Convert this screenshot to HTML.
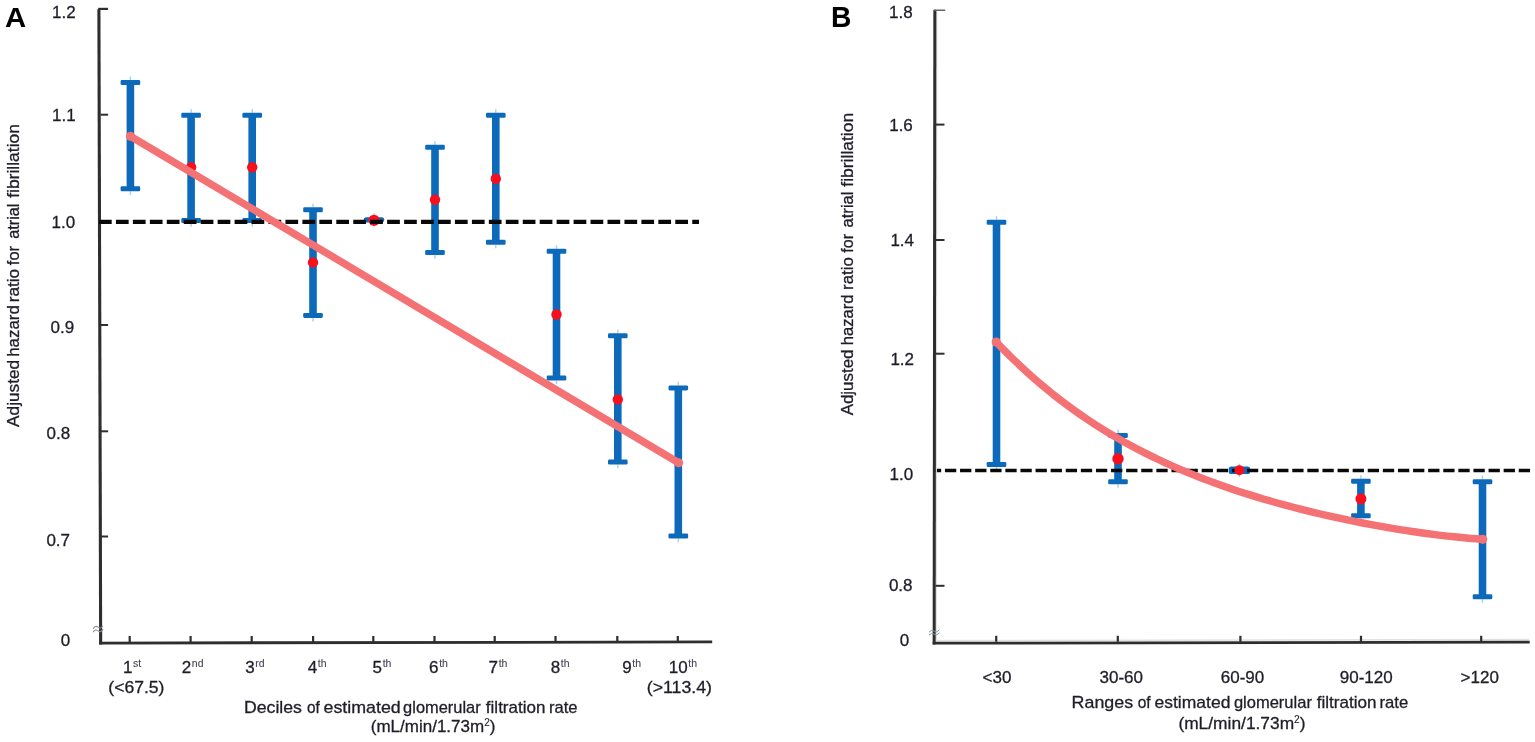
<!DOCTYPE html>
<html lang="en">
<head>
<meta charset="utf-8">
<title>Adjusted hazard ratio for atrial fibrillation by eGFR</title>
<style>
html,body{margin:0;padding:0;background:#fff;}
body{width:1535px;height:742px;overflow:hidden;}
svg{display:block;font-family:"Liberation Sans",Arial,Helvetica,sans-serif;}
</style>
</head>
<body>
<svg width="1535" height="742" viewBox="0 0 1535 742">
<rect x="0" y="0" width="1535" height="742" fill="#ffffff"/>
<g id="panelA">
<line x1="98.9" y1="9.2" x2="100.65" y2="644.4" stroke="#2e2e2e" stroke-width="3.1"/>
<line x1="99.2" y1="643.05" x2="712.2" y2="641.95" stroke="#2e2e2e" stroke-width="2.8"/>
<rect x="98.2" y="7.8" width="9.8" height="2.2" fill="#2e2e2e"/>
<rect x="100.5" y="113.70" width="7.6" height="2" fill="#2e2e2e"/>
<rect x="100.5" y="324.00" width="7.6" height="2" fill="#2e2e2e"/>
<rect x="100.5" y="430.30" width="7.6" height="2" fill="#2e2e2e"/>
<rect x="100.5" y="535.50" width="7.6" height="2" fill="#2e2e2e"/>
<rect x="128.60" y="636" width="2.2" height="6" fill="#2e2e2e"/>
<rect x="189.50" y="636" width="2.2" height="6" fill="#2e2e2e"/>
<rect x="250.60" y="636" width="2.2" height="6" fill="#2e2e2e"/>
<rect x="312.00" y="636" width="2.2" height="6" fill="#2e2e2e"/>
<rect x="372.20" y="636" width="2.2" height="6" fill="#2e2e2e"/>
<rect x="433.40" y="636" width="2.2" height="6" fill="#2e2e2e"/>
<rect x="493.60" y="636" width="2.2" height="6" fill="#2e2e2e"/>
<rect x="554.40" y="636" width="2.2" height="6" fill="#2e2e2e"/>
<rect x="616.20" y="636" width="2.2" height="6" fill="#2e2e2e"/>
<rect x="676.70" y="636" width="2.2" height="6" fill="#2e2e2e"/>
<path d="M93 628.6 q2.5 -3.6 5 -1.4 t5 -1.4 M93 632.2 q2.5 -3.6 5 -1.4 t5 -1.4" stroke="#8a8f98" stroke-width="1.1" fill="none"/>
<rect x="126.60" y="82.60" width="7.6" height="106.20" fill="#0d6aba"/>
<rect x="120.60" y="80.10" width="19.6" height="5.0" rx="1.3" fill="#0d6aba"/>
<rect x="120.60" y="186.30" width="19.6" height="5.0" rx="1.3" fill="#0d6aba"/>
<rect x="129.70" y="76.50" width="1.4" height="3.8" fill="#5aa0d8" opacity="0.5"/>
<rect x="129.70" y="191.10" width="1.4" height="3.8" fill="#5aa0d8" opacity="0.5"/>
<rect x="187.30" y="115.20" width="7.6" height="105.40" fill="#0d6aba"/>
<rect x="181.30" y="112.70" width="19.6" height="5.0" rx="1.3" fill="#0d6aba"/>
<rect x="181.30" y="218.10" width="19.6" height="5.0" rx="1.3" fill="#0d6aba"/>
<rect x="190.40" y="109.10" width="1.4" height="3.8" fill="#5aa0d8" opacity="0.5"/>
<rect x="190.40" y="222.90" width="1.4" height="3.8" fill="#5aa0d8" opacity="0.5"/>
<rect x="248.40" y="115.20" width="7.6" height="105.40" fill="#0d6aba"/>
<rect x="242.40" y="112.70" width="19.6" height="5.0" rx="1.3" fill="#0d6aba"/>
<rect x="242.40" y="218.10" width="19.6" height="5.0" rx="1.3" fill="#0d6aba"/>
<rect x="251.50" y="109.10" width="1.4" height="3.8" fill="#5aa0d8" opacity="0.5"/>
<rect x="251.50" y="222.90" width="1.4" height="3.8" fill="#5aa0d8" opacity="0.5"/>
<rect x="309.20" y="209.80" width="7.6" height="105.60" fill="#0d6aba"/>
<rect x="303.20" y="207.30" width="19.6" height="5.0" rx="1.3" fill="#0d6aba"/>
<rect x="303.20" y="312.90" width="19.6" height="5.0" rx="1.3" fill="#0d6aba"/>
<rect x="312.30" y="203.70" width="1.4" height="3.8" fill="#5aa0d8" opacity="0.5"/>
<rect x="312.30" y="317.70" width="1.4" height="3.8" fill="#5aa0d8" opacity="0.5"/>
<rect x="431.20" y="147.20" width="7.6" height="105.40" fill="#0d6aba"/>
<rect x="425.20" y="144.70" width="19.6" height="5.0" rx="1.3" fill="#0d6aba"/>
<rect x="425.20" y="250.10" width="19.6" height="5.0" rx="1.3" fill="#0d6aba"/>
<rect x="434.30" y="141.10" width="1.4" height="3.8" fill="#5aa0d8" opacity="0.5"/>
<rect x="434.30" y="254.90" width="1.4" height="3.8" fill="#5aa0d8" opacity="0.5"/>
<rect x="492.00" y="115.20" width="7.6" height="127.00" fill="#0d6aba"/>
<rect x="486.00" y="112.70" width="19.6" height="5.0" rx="1.3" fill="#0d6aba"/>
<rect x="486.00" y="239.70" width="19.6" height="5.0" rx="1.3" fill="#0d6aba"/>
<rect x="495.10" y="109.10" width="1.4" height="3.8" fill="#5aa0d8" opacity="0.5"/>
<rect x="495.10" y="244.50" width="1.4" height="3.8" fill="#5aa0d8" opacity="0.5"/>
<rect x="552.70" y="251.30" width="7.6" height="126.70" fill="#0d6aba"/>
<rect x="546.70" y="248.80" width="19.6" height="5.0" rx="1.3" fill="#0d6aba"/>
<rect x="546.70" y="375.50" width="19.6" height="5.0" rx="1.3" fill="#0d6aba"/>
<rect x="555.80" y="245.20" width="1.4" height="3.8" fill="#5aa0d8" opacity="0.5"/>
<rect x="555.80" y="380.30" width="1.4" height="3.8" fill="#5aa0d8" opacity="0.5"/>
<rect x="614.00" y="335.80" width="7.6" height="126.20" fill="#0d6aba"/>
<rect x="608.00" y="333.30" width="19.6" height="5.0" rx="1.3" fill="#0d6aba"/>
<rect x="608.00" y="459.50" width="19.6" height="5.0" rx="1.3" fill="#0d6aba"/>
<rect x="617.10" y="329.70" width="1.4" height="3.8" fill="#5aa0d8" opacity="0.5"/>
<rect x="617.10" y="464.30" width="1.4" height="3.8" fill="#5aa0d8" opacity="0.5"/>
<rect x="674.50" y="387.90" width="7.6" height="148.10" fill="#0d6aba"/>
<rect x="668.50" y="385.40" width="19.6" height="5.0" rx="1.3" fill="#0d6aba"/>
<rect x="668.50" y="533.50" width="19.6" height="5.0" rx="1.3" fill="#0d6aba"/>
<rect x="677.60" y="381.80" width="1.4" height="3.8" fill="#5aa0d8" opacity="0.5"/>
<rect x="677.60" y="538.30" width="1.4" height="3.8" fill="#5aa0d8" opacity="0.5"/>
<rect x="363.75" y="217.20" width="20.5" height="5.2" rx="2.6" fill="#0d6aba"/>
<rect x="373.30" y="213.30" width="1.4" height="13" fill="#5aa0d8" opacity="0.55"/>
<circle cx="191.10" cy="167.30" r="5.2" fill="#f80f1d"/>
<circle cx="252.20" cy="167.30" r="5.2" fill="#f80f1d"/>
<circle cx="313.00" cy="262.40" r="5.2" fill="#f80f1d"/>
<circle cx="374.00" cy="220.30" r="5.6" fill="#f80f1d"/>
<circle cx="435.00" cy="199.80" r="5.2" fill="#f80f1d"/>
<circle cx="495.80" cy="178.80" r="5.2" fill="#f80f1d"/>
<circle cx="556.50" cy="314.50" r="5.2" fill="#f80f1d"/>
<circle cx="617.80" cy="399.40" r="5.2" fill="#f80f1d"/>
<line x1="99" y1="221.8" x2="699" y2="221.8" stroke="#080808" stroke-width="4.2" stroke-dasharray="12.7 4.25"/>
<line x1="130.4" y1="136.2" x2="678.6" y2="462.8" stroke="#f47174" stroke-width="7.4" stroke-linecap="round"/>
<circle cx="130.4" cy="136.2" r="4.5" fill="#f47174"/><circle cx="678.6" cy="462.8" r="4.5" fill="#f47174"/>
<text x="5.10" y="27.00" font-size="28" text-anchor="start" font-weight="bold" fill="#000" stroke="#000" stroke-width="0" textLength="21.2" lengthAdjust="spacingAndGlyphs">A</text>
<text x="52.00" y="17.60" font-size="17" text-anchor="start" font-weight="normal" fill="#1e1e28" stroke="#1e1e28" stroke-width="0.3" >1.2</text>
<text x="52.00" y="121.00" font-size="17" text-anchor="start" font-weight="normal" fill="#1e1e28" stroke="#1e1e28" stroke-width="0.3" >1.1</text>
<text x="51.60" y="228.30" font-size="17" text-anchor="start" font-weight="normal" fill="#1e1e28" stroke="#1e1e28" stroke-width="0.3" >1.0</text>
<text x="50.60" y="332.50" font-size="17" text-anchor="start" font-weight="normal" fill="#1e1e28" stroke="#1e1e28" stroke-width="0.3" >0.9</text>
<text x="46.50" y="439.00" font-size="17" text-anchor="start" font-weight="normal" fill="#1e1e28" stroke="#1e1e28" stroke-width="0.3" >0.8</text>
<text x="46.40" y="545.80" font-size="17" text-anchor="start" font-weight="normal" fill="#1e1e28" stroke="#1e1e28" stroke-width="0.3" >0.7</text>
<text x="60.70" y="646.30" font-size="17" text-anchor="start" font-weight="normal" fill="#1e1e28" stroke="#1e1e28" stroke-width="0.3" >0</text>
<text transform="translate(19.3 0) rotate(-90)" y="0.00" font-size="17" fill="#1e1e28" stroke="#1e1e28" stroke-width="0.3"><tspan x="-426.93" textLength="67.04" lengthAdjust="spacingAndGlyphs">Adjusted</tspan> <tspan x="-356.77" textLength="51.56" lengthAdjust="spacingAndGlyphs">hazard</tspan> <tspan x="-302.35" textLength="33.57" lengthAdjust="spacingAndGlyphs">ratio</tspan> <tspan x="-265.13" textLength="19.10" lengthAdjust="spacingAndGlyphs">for</tspan> <tspan x="-238.69" textLength="35.17" lengthAdjust="spacingAndGlyphs">atrial</tspan> <tspan x="-197.85" textLength="73.78" lengthAdjust="spacingAndGlyphs">fibrillation</tspan></text>
<text x="123.00" y="673.00" font-size="17" text-anchor="start" font-weight="normal" fill="#1e1e28" stroke="#1e1e28" stroke-width="0.3" >1<tspan font-size="10.5" dy="-6.2" dx="0.6" stroke-width="0.1" fill="#4a4a5a">st</tspan></text>
<text x="181.80" y="673.00" font-size="17" text-anchor="start" font-weight="normal" fill="#1e1e28" stroke="#1e1e28" stroke-width="0.3" >2<tspan font-size="10.5" dy="-6.2" dx="0.6" stroke-width="0.1" fill="#4a4a5a">nd</tspan></text>
<text x="245.30" y="673.00" font-size="17" text-anchor="start" font-weight="normal" fill="#1e1e28" stroke="#1e1e28" stroke-width="0.3" >3<tspan font-size="10.5" dy="-6.2" dx="0.6" stroke-width="0.1" fill="#4a4a5a">rd</tspan></text>
<text x="307.80" y="673.00" font-size="17" text-anchor="start" font-weight="normal" fill="#1e1e28" stroke="#1e1e28" stroke-width="0.3" >4<tspan font-size="10.5" dy="-6.2" dx="0.6" stroke-width="0.1" fill="#4a4a5a">th</tspan></text>
<text x="372.60" y="673.00" font-size="17" text-anchor="start" font-weight="normal" fill="#1e1e28" stroke="#1e1e28" stroke-width="0.3" >5<tspan font-size="10.5" dy="-6.2" dx="0.6" stroke-width="0.1" fill="#4a4a5a">th</tspan></text>
<text x="429.10" y="673.00" font-size="17" text-anchor="start" font-weight="normal" fill="#1e1e28" stroke="#1e1e28" stroke-width="0.3" >6<tspan font-size="10.5" dy="-6.2" dx="0.6" stroke-width="0.1" fill="#4a4a5a">th</tspan></text>
<text x="488.60" y="673.00" font-size="17" text-anchor="start" font-weight="normal" fill="#1e1e28" stroke="#1e1e28" stroke-width="0.3" >7<tspan font-size="10.5" dy="-6.2" dx="0.6" stroke-width="0.1" fill="#4a4a5a">th</tspan></text>
<text x="550.70" y="673.00" font-size="17" text-anchor="start" font-weight="normal" fill="#1e1e28" stroke="#1e1e28" stroke-width="0.3" >8<tspan font-size="10.5" dy="-6.2" dx="0.6" stroke-width="0.1" fill="#4a4a5a">th</tspan></text>
<text x="622.20" y="673.00" font-size="17" text-anchor="start" font-weight="normal" fill="#1e1e28" stroke="#1e1e28" stroke-width="0.3" >9<tspan font-size="10.5" dy="-6.2" dx="0.6" stroke-width="0.1" fill="#4a4a5a">th</tspan></text>
<text x="668.70" y="673.00" font-size="17" text-anchor="start" font-weight="normal" fill="#1e1e28" stroke="#1e1e28" stroke-width="0.3" >10<tspan font-size="10.5" dy="-6.2" dx="0.6" stroke-width="0.1" fill="#4a4a5a">th</tspan></text>
<text y="692.50" font-size="17" fill="#1e1e28" stroke="#1e1e28" stroke-width="0.3"><tspan x="108.31" textLength="56.18" lengthAdjust="spacingAndGlyphs">(&lt;67.5)</tspan></text>
<text y="692.60" font-size="17" fill="#1e1e28" stroke="#1e1e28" stroke-width="0.3"><tspan x="646.72" textLength="65.26" lengthAdjust="spacingAndGlyphs">(&gt;113.4)</tspan></text>
<text y="712.90" font-size="17" fill="#1e1e28" stroke="#1e1e28" stroke-width="0.3"><tspan x="243.95" textLength="57.99" lengthAdjust="spacingAndGlyphs">Deciles</tspan> <tspan x="306.95" textLength="12.82" lengthAdjust="spacingAndGlyphs">of</tspan> <tspan x="323.54" textLength="77.20" lengthAdjust="spacingAndGlyphs">estimated</tspan> <tspan x="403.11" textLength="77.56" lengthAdjust="spacingAndGlyphs">glomerular</tspan> <tspan x="485.86" textLength="59.55" lengthAdjust="spacingAndGlyphs">filtration</tspan> <tspan x="548.90" textLength="28.64" lengthAdjust="spacingAndGlyphs">rate</tspan></text>
<text x="370.80" y="731.60" font-size="17" text-anchor="start" font-weight="normal" fill="#1e1e28" stroke="#1e1e28" stroke-width="0.3" >(mL/min/1.73m<tspan font-size="10" dy="-6" stroke-width="0.1">2</tspan><tspan dy="6">)</tspan></text>
</g>
<g id="panelB">
<rect x="992.70" y="222.20" width="7.6" height="242.30" fill="#0d6aba"/>
<rect x="986.70" y="219.70" width="19.6" height="5.0" rx="1.3" fill="#0d6aba"/>
<rect x="986.70" y="462.00" width="19.6" height="5.0" rx="1.3" fill="#0d6aba"/>
<rect x="995.80" y="216.10" width="1.4" height="3.8" fill="#5aa0d8" opacity="0.5"/>
<rect x="995.80" y="466.80" width="1.4" height="3.8" fill="#5aa0d8" opacity="0.5"/>
<rect x="1114.20" y="435.50" width="7.6" height="46.30" fill="#0d6aba"/>
<rect x="1108.20" y="433.00" width="19.6" height="5.0" rx="1.3" fill="#0d6aba"/>
<rect x="1108.20" y="479.30" width="19.6" height="5.0" rx="1.3" fill="#0d6aba"/>
<rect x="1117.30" y="429.40" width="1.4" height="3.8" fill="#5aa0d8" opacity="0.5"/>
<rect x="1117.30" y="484.10" width="1.4" height="3.8" fill="#5aa0d8" opacity="0.5"/>
<rect x="1357.10" y="481.20" width="7.6" height="34.50" fill="#0d6aba"/>
<rect x="1351.10" y="478.70" width="19.6" height="5.0" rx="1.3" fill="#0d6aba"/>
<rect x="1351.10" y="513.20" width="19.6" height="5.0" rx="1.3" fill="#0d6aba"/>
<rect x="1360.20" y="475.10" width="1.4" height="3.8" fill="#5aa0d8" opacity="0.5"/>
<rect x="1360.20" y="518.00" width="1.4" height="3.8" fill="#5aa0d8" opacity="0.5"/>
<rect x="1478.70" y="481.70" width="7.6" height="115.10" fill="#0d6aba"/>
<rect x="1472.70" y="479.20" width="19.6" height="5.0" rx="1.3" fill="#0d6aba"/>
<rect x="1472.70" y="594.30" width="19.6" height="5.0" rx="1.3" fill="#0d6aba"/>
<rect x="1481.80" y="475.60" width="1.4" height="3.8" fill="#5aa0d8" opacity="0.5"/>
<rect x="1481.80" y="599.10" width="1.4" height="3.8" fill="#5aa0d8" opacity="0.5"/>
<rect x="1228.65" y="466.50" width="21.5" height="7.6" rx="2.6" fill="#0d6aba"/>
<rect x="1238.70" y="463.80" width="1.4" height="13" fill="#5aa0d8" opacity="0.55"/>
<line x1="929.85" y1="470.5" x2="1530.1" y2="470.5" stroke="#080808" stroke-width="3.5" stroke-dasharray="11.3 3.8"/>
<rect x="927" y="466" width="6.7" height="9" fill="#fff"/>
<line x1="936.6" y1="12" x2="936.0" y2="641" stroke="#dcdcdc" stroke-width="1.6"/>
<line x1="936" y1="640.6" x2="1529" y2="639.6" stroke="#e2e2e2" stroke-width="1.6"/>
<line x1="934.85" y1="9.7" x2="934.15" y2="644.6" stroke="#2e2e2e" stroke-width="3.0"/>
<line x1="932.7" y1="643.2" x2="1529.7" y2="642.1" stroke="#2e2e2e" stroke-width="2.8"/>
<rect x="934" y="9.5" width="11.2" height="1.5" fill="#666"/>
<rect x="935.5" y="123.60" width="9" height="2" fill="#2e2e2e"/>
<rect x="935.5" y="239.00" width="9" height="2" fill="#2e2e2e"/>
<rect x="935.5" y="352.70" width="9" height="2" fill="#2e2e2e"/>
<rect x="935.5" y="584.80" width="9" height="2" fill="#2e2e2e"/>
<rect x="995.10" y="635.8" width="2.2" height="6" fill="#2e2e2e"/>
<rect x="1116.70" y="635.8" width="2.2" height="6" fill="#2e2e2e"/>
<rect x="1239.30" y="635.8" width="2.2" height="6" fill="#2e2e2e"/>
<rect x="1359.90" y="635.8" width="2.2" height="6" fill="#2e2e2e"/>
<rect x="1480.10" y="635.8" width="2.2" height="6" fill="#2e2e2e"/>
<path d="M929 632.2 q2.6 -3 5.2 -1.1 t5.2 -1.1 M929 635.2 q2.6 -3 5.2 -1.1 t5.2 -1.1" stroke="#8f98a6" stroke-width="1.0" fill="none"/>
<circle cx="1118.00" cy="458.70" r="5.7" fill="#f80f1d"/>
<circle cx="1239.40" cy="470.30" r="5.0" fill="#f80f1d"/>
<circle cx="1360.90" cy="498.80" r="5.5" fill="#f80f1d"/>
<polyline points="996.2,342.0 1003.3,349.3 1010.3,356.4 1017.4,363.2 1024.4,369.8 1031.5,376.2 1038.5,382.3 1045.6,388.2 1052.6,394.0 1059.7,399.5 1066.7,404.8 1073.8,410.0 1080.8,414.9 1087.9,419.7 1094.9,424.4 1102.0,428.8 1109.0,433.2 1116.1,437.3 1123.1,441.4 1130.2,445.2 1137.2,449.0 1144.3,452.6 1151.3,456.1 1158.4,459.5 1165.4,462.8 1172.5,466.0 1179.5,469.1 1186.6,472.0 1193.6,474.9 1200.7,477.7 1207.7,480.4 1214.8,483.0 1221.8,485.5 1228.9,488.0 1235.9,490.4 1243.0,492.7 1250.0,494.9 1257.1,497.1 1264.1,499.2 1271.2,501.2 1278.2,503.2 1285.3,505.1 1292.3,507.0 1299.4,508.8 1306.4,510.6 1313.5,512.3 1320.5,514.0 1327.6,515.6 1334.6,517.2 1341.7,518.7 1348.7,520.2 1355.8,521.6 1362.8,523.0 1369.9,524.4 1376.9,525.7 1384.0,526.9 1391.0,528.1 1398.1,529.3 1405.1,530.4 1412.2,531.5 1419.2,532.5 1426.3,533.5 1433.3,534.4 1440.4,535.3 1447.4,536.1 1454.5,536.8 1461.5,537.5 1468.6,538.2 1475.6,538.8 1482.7,539.3" fill="none" stroke="#f47174" stroke-width="7.4" stroke-linecap="round" stroke-linejoin="round"/>
<circle cx="996.2" cy="342.0" r="4.6" fill="#f47174"/><circle cx="1482.7" cy="539.3" r="4.6" fill="#f47174"/>
<text x="830.90" y="27.10" font-size="28.6" text-anchor="start" font-weight="bold" fill="#000" stroke="#000" stroke-width="0" textLength="20.4" lengthAdjust="spacingAndGlyphs">B</text>
<text x="889.00" y="17.60" font-size="17" text-anchor="start" font-weight="normal" fill="#1e1e28" stroke="#1e1e28" stroke-width="0.3" >1.8</text>
<text x="889.20" y="130.50" font-size="17" text-anchor="start" font-weight="normal" fill="#1e1e28" stroke="#1e1e28" stroke-width="0.3" >1.6</text>
<text x="890.40" y="246.40" font-size="17" text-anchor="start" font-weight="normal" fill="#1e1e28" stroke="#1e1e28" stroke-width="0.3" >1.4</text>
<text x="890.40" y="365.00" font-size="17" text-anchor="start" font-weight="normal" fill="#1e1e28" stroke="#1e1e28" stroke-width="0.3" >1.2</text>
<text x="889.50" y="480.00" font-size="17" text-anchor="start" font-weight="normal" fill="#1e1e28" stroke="#1e1e28" stroke-width="0.3" >1.0</text>
<text x="888.90" y="590.50" font-size="17" text-anchor="start" font-weight="normal" fill="#1e1e28" stroke="#1e1e28" stroke-width="0.3" >0.8</text>
<text x="899.80" y="646.20" font-size="17" text-anchor="start" font-weight="normal" fill="#1e1e28" stroke="#1e1e28" stroke-width="0.3" >0</text>
<text transform="translate(853.2 0) rotate(-90)" y="0.00" font-size="17" fill="#1e1e28" stroke="#1e1e28" stroke-width="0.3"><tspan x="-415.33" textLength="65.82" lengthAdjust="spacingAndGlyphs">Adjusted</tspan> <tspan x="-345.15" textLength="50.72" lengthAdjust="spacingAndGlyphs">hazard</tspan> <tspan x="-289.92" textLength="32.72" lengthAdjust="spacingAndGlyphs">ratio</tspan> <tspan x="-252.63" textLength="18.59" lengthAdjust="spacingAndGlyphs">for</tspan> <tspan x="-227.51" textLength="36.02" lengthAdjust="spacingAndGlyphs">atrial</tspan> <tspan x="-186.65" textLength="73.78" lengthAdjust="spacingAndGlyphs">fibrillation</tspan></text>
<text x="982.60" y="682.60" font-size="17" text-anchor="start" font-weight="normal" fill="#1e1e28" stroke="#1e1e28" stroke-width="0.3" >&lt;30</text>
<text x="1099.50" y="682.60" font-size="17" text-anchor="start" font-weight="normal" fill="#1e1e28" stroke="#1e1e28" stroke-width="0.3" >30-60</text>
<text x="1220.80" y="682.60" font-size="17" text-anchor="start" font-weight="normal" fill="#1e1e28" stroke="#1e1e28" stroke-width="0.3" >60-90</text>
<text x="1339.80" y="682.60" font-size="17" text-anchor="start" font-weight="normal" fill="#1e1e28" stroke="#1e1e28" stroke-width="0.3" >90-120</text>
<text x="1460.60" y="682.60" font-size="17" text-anchor="start" font-weight="normal" fill="#1e1e28" stroke="#1e1e28" stroke-width="0.3" >&gt;120</text>
<text y="708.30" font-size="17" fill="#1e1e28" stroke="#1e1e28" stroke-width="0.3"><tspan x="1071.64" textLength="61.51" lengthAdjust="spacingAndGlyphs">Ranges</tspan> <tspan x="1137.75" textLength="12.93" lengthAdjust="spacingAndGlyphs">of</tspan> <tspan x="1154.46" textLength="75.97" lengthAdjust="spacingAndGlyphs">estimated</tspan> <tspan x="1233.91" textLength="77.97" lengthAdjust="spacingAndGlyphs">glomerular</tspan> <tspan x="1316.76" textLength="59.85" lengthAdjust="spacingAndGlyphs">filtration</tspan> <tspan x="1379.49" textLength="28.75" lengthAdjust="spacingAndGlyphs">rate</tspan></text>
<text x="1178.40" y="728.60" font-size="17" text-anchor="start" font-weight="normal" fill="#1e1e28" stroke="#1e1e28" stroke-width="0.3" textLength="127.2" lengthAdjust="spacingAndGlyphs">(mL/min/1.73m<tspan font-size="10" dy="-6" stroke-width="0.1">2</tspan><tspan dy="6">)</tspan></text>
</g>
</svg>
</body>
</html>
